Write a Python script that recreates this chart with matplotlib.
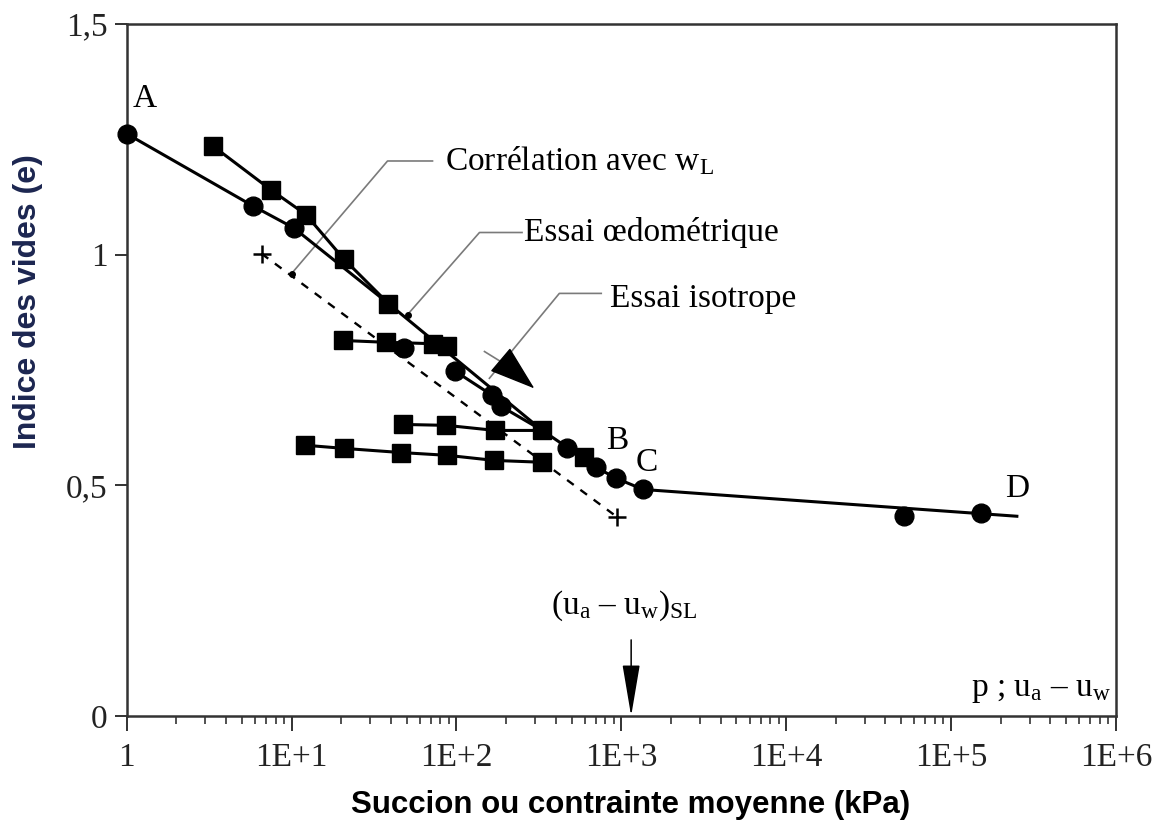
import matplotlib.pyplot as plt
from matplotlib.ticker import LogLocator, NullFormatter

plt.rcParams['mathtext.fontset'] = 'custom'
plt.rcParams['mathtext.rm'] = 'Liberation Serif'
plt.rcParams['mathtext.it'] = 'Liberation Serif:italic'

serif = 'Liberation Serif'
sans = 'Liberation Sans'

# chemin de séchage (cercles) A -> B -> C -> D
sechage_x = [1, 5.8, 10.3, 38.7, 332, 471, 705, 933, 1360, 251000]
sechage_e = [1.262, 1.106, 1.058, 0.894, 0.619, 0.582, 0.539, 0.515, 0.491, 0.433]
cercles_x = [1, 5.8, 10.3, 48.4, 98.6, 165, 187, 471, 705, 933, 1360, 51900, 152000]
cercles_e = [1.262, 1.106, 1.058, 0.797, 0.747, 0.695, 0.671, 0.582, 0.539, 0.515, 0.491, 0.433, 0.439]

# essai oedométrique : chargement puis déchargements
oedo_x = [3.32, 7.46, 12.2, 20.7, 38.7]
oedo_e = [1.236, 1.141, 1.087, 0.991, 0.894]
iso_x = [98.6, 165, 187, 332]
iso_e = [0.747, 0.695, 0.671, 0.619]
dech1_x = [20.4, 37.6, 71.6, 88.2]
dech1_e = [0.814, 0.810, 0.807, 0.803]
dech2_x = [47.1, 86.9, 172, 332]
dech2_e = [0.632, 0.630, 0.619, 0.619]
dech3_x = [12.0, 20.9, 46.4, 88.2, 170, 332]
dech3_e = [0.587, 0.580, 0.571, 0.565, 0.554, 0.550]
carres_x = oedo_x + dech1_x + dech2_x + dech3_x + [597]
carres_e = oedo_e + dech1_e + dech2_e + dech3_e + [0.561]

# corrélation avec wL
corr_x = [6.58, 946]
corr_e = [1.002, 0.431]

# limite de retrait
x_sl = 1148

xticks = [1, 1e1, 1e2, 1e3, 1e4, 1e5, 1e6]
xtick_labels = ['1', '1E+1', '1E+2', '1E+3', '1E+4', '1E+5', '1E+6']
yticks = [0, 0.5, 1, 1.5]
ytick_labels = ['0', '0,5', '1', '1,5']

fig = plt.figure(figsize=(11.52, 8.32), dpi=100)
ax = fig.add_axes([0.110, 0.1394, 0.8586, 0.8318])
ax.set_xscale('log')
ax.set_xlim(1, 1e6)
ax.set_ylim(0, 1.5)

lw = 2.2
ax.plot(sechage_x, sechage_e, color='black', lw=lw, clip_on=False, zorder=3)
ax.plot(oedo_x, oedo_e, color='black', lw=lw, zorder=3)
ax.plot(iso_x, iso_e, color='black', lw=lw, zorder=3)
for bx, be in [(dech1_x, dech1_e), (dech2_x, dech2_e), (dech3_x, dech3_e)]:
    ax.plot(bx, be, color='black', lw=lw, zorder=3)
ax.plot(corr_x, corr_e, color='black', lw=1.7, ls=(0, (3.5, 3.5)), zorder=3)
ax.plot(corr_x, corr_e, 'k+', ms=13, mew=1.8, ls='none', zorder=4)

ax.plot(cercles_x, cercles_e, 'o', color='black', ms=13.5, ls='none', clip_on=False, zorder=5)
ax.plot(carres_x, carres_e, 's', color='black', ms=12.5, ls='none', zorder=5)

# lignes de rappel des légendes
grey = '#7a7a7a'
fs = 24
ax.plot([10.0, 38.2, 71.6], [0.959, 1.203, 1.203], color=grey, lw=1.2, zorder=2)
ax.plot([10.0], [0.959], 'k.', ms=8, zorder=6)
ax.text(85, 1.203, 'Corrélation avec w$_\\mathrm{L}$', family=serif, fontsize=fs,
        va='center', ha='left')
ax.plot([50.5, 138, 250], [0.870, 1.048, 1.048], color=grey, lw=1.2, zorder=2)
ax.plot([50.5], [0.870], 'k.', ms=8, zorder=6)
ax.text(258, 1.048, 'Essai œdométrique', family=serif, fontsize=fs, va='center', ha='left')
ax.plot([158.5, 421, 756], [0.732, 0.916, 0.916], color=grey, lw=1.2, zorder=2)
ax.text(860, 0.905, 'Essai isotrope', family=serif, fontsize=fs, va='center', ha='left')

ax.plot([148, 220], [0.790, 0.752], color=grey, lw=1.2, zorder=2)
ax.annotate('', xy=(297, 0.710), xytext=(200, 0.762),
            arrowprops=dict(arrowstyle='-|>,head_length=1.2,head_width=0.4',
                            color='black', lw=1.0, mutation_scale=25, shrinkA=0, shrinkB=0))

# points caractéristiques
for lab, lx, ly in [('A', 1.29, 1.337), ('B', 946, 0.597), ('C', 1437, 0.548), ('D', 251000, 0.493)]:
    ax.text(lx, ly, lab, family=serif, fontsize=fs, ha='center', va='center')

ax.annotate('', xy=(x_sl, 0), xytext=(x_sl, 0.165),
            arrowprops=dict(arrowstyle='-|>,head_length=1.3,head_width=0.22',
                            color='black', lw=1.1, mutation_scale=25, shrinkA=0, shrinkB=0))
ax.text(1043, 0.240, '(u$_\\mathrm{a}$ – u$_\\mathrm{w}$)$_\\mathrm{SL}$', family=serif,
        fontsize=fs, ha='center', va='center')
ax.text(930000, 0.056, 'p ; u$_\\mathrm{a}$ – u$_\\mathrm{w}$', family=serif, fontsize=fs,
        ha='right', va='center')

ax.set_xticks(xticks)
ax.set_xticklabels(xtick_labels, family=serif, fontsize=fs)
ax.xaxis.set_minor_locator(LogLocator(base=10, subs=range(2, 10)))
ax.xaxis.set_minor_formatter(NullFormatter())
ax.set_yticks(yticks)
ax.set_yticklabels(ytick_labels, family=serif, fontsize=fs)
ax.tick_params(axis='x', which='major', direction='out', length=11, width=1.3, pad=8, colors='#222')
ax.tick_params(axis='x', which='minor', direction='out', length=6, width=1.1, colors='#222')
ax.tick_params(axis='y', which='major', direction='out', length=9, width=1.3, pad=5, colors='#222')
for s in ax.spines.values():
    s.set_linewidth(1.8)
    s.set_color('#333333')

fig.text(0.547, 0.0325, 'Succion ou contrainte moyenne (kPa)', family=sans, fontweight='bold',
         fontsize=22.5, ha='center', va='center')
fig.text(0.0243, 0.637, 'Indice des vides (e)', family=sans, fontweight='bold', fontsize=23,
         rotation=90, ha='center', va='center', color='#1c2650')

fig.savefig('out.png', dpi=100)
